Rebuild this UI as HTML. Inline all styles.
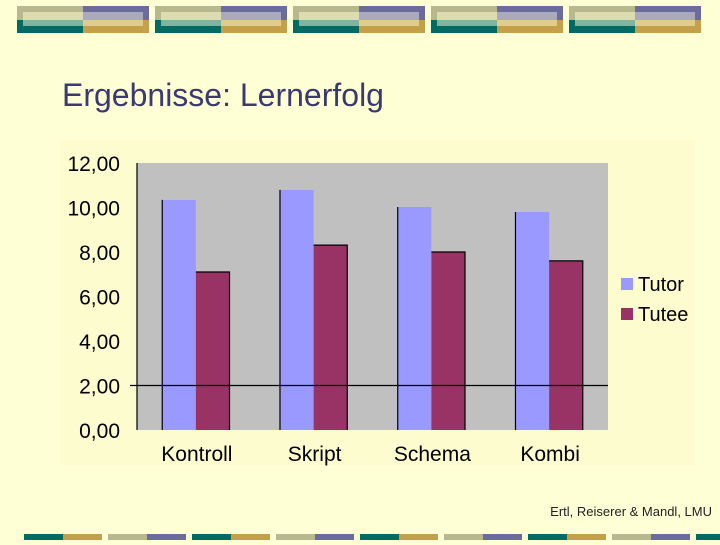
<!DOCTYPE html>
<html><head><meta charset="utf-8"><style>
body{margin:0;width:720px;height:540px;overflow:hidden;background:#ffffd6;font-family:"Liberation Sans",sans-serif;}
</style></head><body>
<svg width="720" height="540" xmlns="http://www.w3.org/2000/svg">
<g id="topb"></g>
<g id="botb"></g>
<text x="62" y="106" font-size="32" fill="#3a3a6e">Ergebnisse: Lernerfolg</text>
<rect x="60" y="140" width="635" height="325" fill="#fdfccf"/>
<rect x="137" y="163" width="471" height="267" fill="#c0c0c0"/>
<g id="chart"></g>
<rect x="621" y="278" width="12" height="12" fill="#9999ff"/>
<text x="638" y="291" font-size="20" fill="#000">Tutor</text>
<rect x="621" y="308" width="12" height="12" fill="#993366"/>
<text x="638" y="321" font-size="20" fill="#000">Tutee</text>
<text x="712" y="516" font-size="13" text-anchor="end" fill="#222">Ertl, Reiserer &amp; Mandl, LMU</text>
</svg>
<script>
const categories=["Kontroll","Skript","Schema","Kombi"];
const tutor=[10.34,10.79,10.02,9.8];
const tutee=[7.1,8.31,8.0,7.6];
const ticks=[0,2,4,6,8,10,12];
const NS="http://www.w3.org/2000/svg";
function mk(t,a,p){const e=document.createElementNS(NS,t);for(const k in a)e.setAttribute(k,a[k]);p.appendChild(e);return e;}
const x0=137,x1=608,y0=430,y1=163,vmax=12;
const Y=v=>y0-(v/vmax)*(y0-y1);
const gw=(x1-x0)/categories.length,bw=gw/3.5;
const g=document.getElementById('chart');
ticks.forEach(t=>{
 const tx=mk('text',{x:120,y:Y(t)+8,'font-size':21,'text-anchor':'end',fill:'#000'},g);
 tx.textContent=t.toFixed(2).replace('.',',');
 
 
});
categories.forEach((c,i)=>{
 const gx=x0+i*gw+bw*0.75;
 const a=mk('rect',{x:gx,y:Y(tutor[i]),width:bw,height:y0-Y(tutor[i]),fill:'#9999ff'},g);
 
 
 mk('path',{d:`M${gx} ${y0}V${Y(tutor[i])}`,stroke:'#000','stroke-width':1.2},g);
 const b=mk('rect',{x:gx+bw,y:Y(tutee[i]),width:bw,height:y0-Y(tutee[i]),fill:'#993366'},g);
 
 
 mk('path',{d:`M${gx+bw} ${Y(tutee[i])}H${gx+2*bw}V${y0}`,stroke:'#000','stroke-width':1.2,fill:'none'},g);
 const l=mk('text',{x:x0+i*gw+gw/2+1,y:461,'font-size':21,'text-anchor':'middle',fill:'#000'},g);
 l.textContent=c;
 
 
});
mk('path',{d:`M${x0} ${y1}V${y0}`,stroke:'#000','stroke-width':1.2},g);
mk('path',{d:`M130 ${Y(2)}H${x1}`,stroke:'#000','stroke-width':1.2},g);
const topBanner=document.getElementById('topb');
for(let i=0;i<5;i++){const x=17+i*138;
 mk('rect',{x:x,y:6,width:66,height:14,fill:'#b8b88e'},topBanner);
 mk('rect',{x:x+66,y:6,width:66,height:14,fill:'#6b6b9e'},topBanner);
 mk('rect',{x:x,y:20,width:66,height:13,fill:'#006b63'},topBanner);
 mk('rect',{x:x+66,y:20,width:66,height:13,fill:'#c4a04a'},topBanner);
 mk('rect',{x:x+6,y:12,width:60,height:8,fill:'#dcdcb0'},topBanner);
 mk('rect',{x:x+66,y:12,width:60,height:8,fill:'#aaaabc'},topBanner);
 mk('rect',{x:x+6,y:20,width:60,height:6,fill:'#80b4a0'},topBanner);
 mk('rect',{x:x+66,y:20,width:60,height:6,fill:'#e0cc8c'},topBanner);
}
const botBanner=document.getElementById('botb');
for(let i=0;i<9;i++){const x=24+i*84,even=i%2==0;
 mk('rect',{x:x,y:534,width:39,height:6,fill:even?'#006b63':'#b8b88e'},botBanner);
 mk('rect',{x:x+39,y:534,width:39,height:6,fill:even?'#c4a04a':'#6b6b9e'},botBanner);
}
</script>
</body></html>
